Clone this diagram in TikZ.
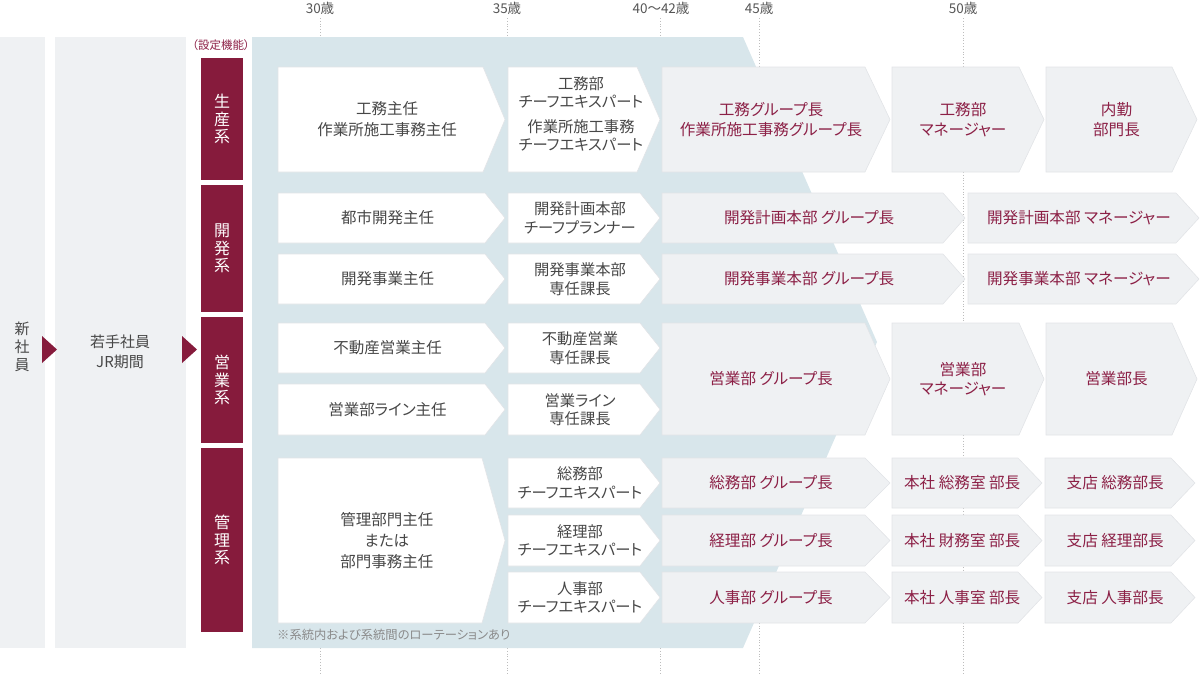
\documentclass[tikz,border=0pt]{standalone}
\usepackage{fontspec}
\setmainfont{Noto Sans CJK JP}[RawFeature={+palt}]
\definecolor{redc}{HTML}{861B3C}
\definecolor{redt}{HTML}{8C2046}
\definecolor{grayt}{HTML}{474747}
\definecolor{pale}{HTML}{EFF1F3}
\definecolor{bluebg}{HTML}{D8E6EB}
\definecolor{edge}{HTML}{E2E4E7}
\definecolor{dotc}{HTML}{BDBDBD}
\definecolor{axist}{HTML}{555555}
\definecolor{notet}{HTML}{8A8A8A}
\newcommand{\chev}[9]{%
  \path[#1] (#2,#3) -- ({#4-#6},#3) -- (#4,{(#3+#5)/2}) -- ({#4-#6},#5) -- (#2,#5) -- cycle;
  \node[#8] (#7) at ({(#2+#4-#6)/2+#6*0.3},{(#3+#5)/2}) {#9};}
\tikzset{
  whitebox/.style={fill=white, draw=edge, line width=0.6pt},
  palebox/.style={fill=pale, draw=edge, line width=0.6pt},
  gtext/.style={text=grayt, font=\fontsize{15.5}{21}\selectfont, align=center, inner sep=0pt},
  btext/.style={text=grayt, font=\fontsize{15.3}{18.5}\selectfont, align=center, inner sep=0pt},
  rtext/.style={text=redt, font=\fontsize{15.6}{19.5}\selectfont, align=center, inner sep=0pt},
  bartext/.style={text=white, font=\fontsize{16}{17.5}\selectfont, align=center, inner sep=0pt},
  coltext/.style={text=grayt, font=\fontsize{15}{20}\selectfont, align=center, inner sep=0pt},
  axislabel/.style={text=axist, font=\fontsize{13.5}{15}\selectfont, inner sep=0pt},
  dotline/.style={draw=dotc, line width=0.8pt, dotted},
  redbar/.style={fill=redc},
  colbox/.style={fill=pale},
}
\begin{document}
\begin{tikzpicture}[x=1pt,y=-1pt]
\useasboundingbox (0,0) rectangle (1200,675);
% age axis
\foreach \xx/\nm in {320/a30,507/a35,660/a40,759/a45,963/a50}{
  \coordinate (\nm top) at (\xx,18);
  \coordinate (\nm bot) at (\xx,675);
  \draw[dotline] (\nm top) -- (\nm bot);
}
\node[axislabel] (age30) at (320,8) {30歳};
\node[axislabel] (age35) at (507,8) {35歳};
\node[axislabel] (age40) at (661,8) {40〜42歳};
\node[axislabel] (age45) at (759,8) {45歳};
\node[axislabel] (age50) at (963,8) {50歳};
% left columns
\fill[colbox] (0,37) rectangle (45,648);
\fill[colbox] (55,37) rectangle (186,648);
\node[coltext, font=\fontsize{15}{18}\selectfont] (newemp) at (22,347) {新\\社\\員};
\node[coltext] (young) at (120,352) {若手社員\\JR期間};
\fill[redc] (42,336) -- (57,349.5) -- (42,363) -- cycle;
\fill[redc] (182,336) -- (197,349.5) -- (182,363) -- cycle;
% function bars
\node[text=redt, font=\fontsize{11.5}{13}\selectfont, inner sep=0pt] (setfn) at (221,45) {（設定機能）};
\fill[redbar] (201,58) rectangle (243,180);
\fill[redbar] (201,185) rectangle (243,312);
\fill[redbar] (201,317) rectangle (243,443);
\fill[redbar] (201,448) rectangle (243,632);
\node[bartext] (fseisan) at (222,119) {生\\産\\系};
\node[bartext] (fkaihatsu) at (222,248.5) {開\\発\\系};
\node[bartext] (feigyo) at (222,380) {営\\業\\系};
\node[bartext] (fkanri) at (222,540) {管\\理\\系};
% blue background
\fill[bluebg] (252,37) -- (743,37) -- (877,342) -- (743,648) -- (252,648) -- cycle;
% column A
\chev{whitebox}{278}{67}{505}{172}{22}{A1}{gtext}{工務主任\\作業所施工事務主任}
\chev{whitebox}{278}{193}{505}{243}{20}{A2}{gtext}{都市開発主任}
\chev{whitebox}{278}{254}{505}{304}{20}{A3}{gtext}{開発事業主任}
\chev{whitebox}{278}{323}{505}{373}{20}{A4}{gtext}{不動産営業主任}
\chev{whitebox}{278}{384}{505}{435}{20}{A5}{gtext}{営業部ライン主任}
\chev{whitebox}{278}{458}{505}{623}{23}{A6}{gtext}{管理部門主任\\または\\部門事務主任}
% column B
\path[whitebox] (508,67) -- (637,67) -- (660,119.5) -- (637,172) -- (508,172) -- cycle;
\node[btext] (B1) at (581,114) {工務部\\チーフエキスパート\\[6pt]作業所施工事務\\チーフエキスパート};
\chev{whitebox}{508}{193}{660}{243}{20}{B2}{btext}{開発計画本部\\チーフプランナー}
\chev{whitebox}{508}{254}{660}{304}{20}{B3}{btext}{開発事業本部\\専任課長}
\chev{whitebox}{508}{323}{660}{373}{20}{B4}{btext}{不動産営業\\専任課長}
\chev{whitebox}{508}{384}{660}{435}{20}{B5}{btext}{営業ライン\\専任課長}
\chev{whitebox}{508}{458}{660}{508}{20}{B6}{btext}{総務部\\チーフエキスパート}
\chev{whitebox}{508}{515}{660}{566}{20}{B7}{btext}{経理部\\チーフエキスパート}
\chev{whitebox}{508}{572}{660}{623}{20}{B8}{btext}{人事部\\チーフエキスパート}
% column C
\chev{palebox}{662}{67}{890}{172}{25}{C1}{rtext}{工務グループ長\\作業所施工事務グループ長}
\chev{palebox}{662}{193}{965}{243}{22}{C2}{rtext}{開発計画本部 グループ長}
\chev{palebox}{662}{254}{965}{304}{22}{C3}{rtext}{開発事業本部 グループ長}
\chev{palebox}{662}{323}{890}{435}{25}{C4}{rtext}{営業部 グループ長}
\chev{palebox}{662}{458}{890}{508}{25}{C5}{rtext}{総務部 グループ長}
\chev{palebox}{662}{515}{890}{566}{25}{C6}{rtext}{経理部 グループ長}
\chev{palebox}{662}{572}{890}{623}{25}{C7}{rtext}{人事部 グループ長}
% column D
\chev{palebox}{892}{67}{1044}{172}{25}{D1}{rtext}{工務部\\マネージャー}
\chev{palebox}{968}{193}{1199}{243}{23}{D2}{rtext}{開発計画本部 マネージャー}
\chev{palebox}{968}{254}{1199}{304}{23}{D3}{rtext}{開発事業本部 マネージャー}
\chev{palebox}{892}{323}{1044}{435}{25}{D4}{rtext}{営業部\\マネージャー}
\chev{palebox}{892}{458}{1042}{508}{24}{D5}{rtext}{本社 総務室 部長}
\chev{palebox}{892}{515}{1042}{566}{24}{D6}{rtext}{本社 財務室 部長}
\chev{palebox}{892}{572}{1042}{623}{24}{D7}{rtext}{本社 人事室 部長}
% column E
\chev{palebox}{1046}{67}{1197}{172}{25}{E1}{rtext}{内勤\\部門長}
\chev{palebox}{1046}{323}{1197}{435}{25}{E4}{rtext}{営業部長}
\chev{palebox}{1045}{458}{1195}{508}{24}{E5}{rtext}{支店 総務部長}
\chev{palebox}{1045}{515}{1195}{566}{24}{E6}{rtext}{支店 経理部長}
\chev{palebox}{1045}{572}{1195}{623}{24}{E7}{rtext}{支店 人事部長}
% note
\node[text=notet, font=\fontsize{12.3}{14}\selectfont, inner sep=0pt, anchor=west] (note) at (277,635) {※系統内および系統間のローテーションあり};
\end{tikzpicture}
\end{document}
